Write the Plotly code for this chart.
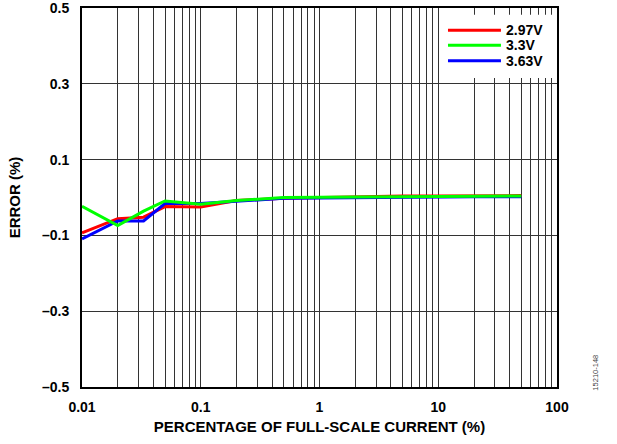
import plotly.graph_objects as go

# percentage of full-scale current (%)
current_pct = [0.01, 0.02, 0.033, 0.05, 0.1, 0.2, 0.5, 1, 2, 5, 10, 20, 50]

# error (%) per supply voltage
err_297 = [-0.093, -0.056, -0.052, -0.024, -0.025, -0.008, -0.002, 0.000, 0.002, 0.004, 0.004, 0.005, 0.005]
err_330 = [-0.023, -0.074, -0.036, -0.009, -0.018, -0.008, 0.000, 0.000, 0.001, 0.002, 0.003, 0.004, 0.004]
err_363 = [-0.109, -0.062, -0.062, -0.016, -0.016, -0.010, -0.002, -0.001, 0.000, 0.001, 0.002, 0.002, 0.002]

series_names = ["2.97V", "3.3V", "3.63V"]
series_colors = ["#FF0000", "#00FF00", "#0000FF"]

x_ticks = [0.01, 0.1, 1, 10, 100]
x_ticktext = ["0.01", "0.1", "1", "10", "100"]
y_ticks = [0.5, 0.3, 0.1, -0.1, -0.3, -0.5]
y_ticktext = ["0.5", "0.3", "0.1", "–0.1", "–0.3", "–0.5"]

FONT = "Liberation Sans, Arial, sans-serif"
GRID = "#333333"

# minor gridlines 2..9 in each decade
minor_vals = [m * 10.0 ** e for e in range(-2, 2) for m in range(2, 10)]

fig = go.Figure()
# draw order: red, blue, green (green on top)
for idx, ys in [(0, err_297), (2, err_363), (1, err_330)]:
    fig.add_trace(go.Scatter(x=current_pct, y=ys, name=series_names[idx], mode="lines",
                             line=dict(color=series_colors[idx], width=3)))

fig.update_layout(
    width=617, height=444,
    margin=dict(l=82, r=60, t=8, b=57),
    paper_bgcolor="white", plot_bgcolor="white",
    font=dict(family=FONT, size=14, color="black", weight="bold"),
    showlegend=False,
)

fig.update_xaxes(
    type="log", range=[-2, 2], automargin=False, ticklabeloverflow="allow",
    tickvals=x_ticks, ticktext=x_ticktext,
    showgrid=True, gridcolor=GRID, gridwidth=1,
    minor=dict(tickvals=minor_vals, showgrid=True, gridcolor=GRID, gridwidth=1),
    showline=True, linecolor="black", linewidth=2, mirror=True,
    ticks="", zeroline=False, ticklabelstandoff=6,
    title=dict(text="PERCENTAGE OF FULL-SCALE CURRENT (%)", font=dict(size=15), standoff=8),
)
fig.update_yaxes(
    range=[-0.5, 0.5], automargin=False, ticklabeloverflow="allow",
    tickvals=y_ticks, ticktext=y_ticktext,
    showgrid=True, gridcolor=GRID, gridwidth=1,
    showline=True, linecolor="black", linewidth=2, mirror=True,
    ticks="", zeroline=False, ticklabelstandoff=8,
    title=dict(text="ERROR (%)", font=dict(size=15), standoff=18),
)

# hand-made legend box in the top-right corner
fig.add_shape(type="rect", xref="paper", yref="paper", x0=0.756, x1=0.997, y0=0.815, y1=0.982,
              fillcolor="white", line=dict(width=0), layer="above")
leg_y = [0.941, 0.902, 0.861]
for name, color, ly in zip(series_names, series_colors, leg_y):
    fig.add_shape(type="line", xref="paper", yref="paper", x0=0.7705, x1=0.882, y0=ly, y1=ly,
                  line=dict(color=color, width=3), layer="above")
    fig.add_annotation(text=name, xref="paper", yref="paper", x=0.8895, y=ly,
                       xanchor="left", yanchor="middle", showarrow=False, borderpad=0,
                       font=dict(size=14, family=FONT, weight="bold", color="black"))

fig.add_annotation(text="15210-148", xref="paper", yref="paper", x=1.082, y=-0.015,
                   showarrow=False, textangle=-90, xanchor="center", yanchor="bottom",
                   font=dict(size=7.5, color="#444444", family=FONT, weight="normal"))

# drop the browser's default 8px body margin so the figure sits at the page corner
fig.write_html("out.html", config={"displayModeBar": False},
               post_script="document.body.style.margin='0';")
